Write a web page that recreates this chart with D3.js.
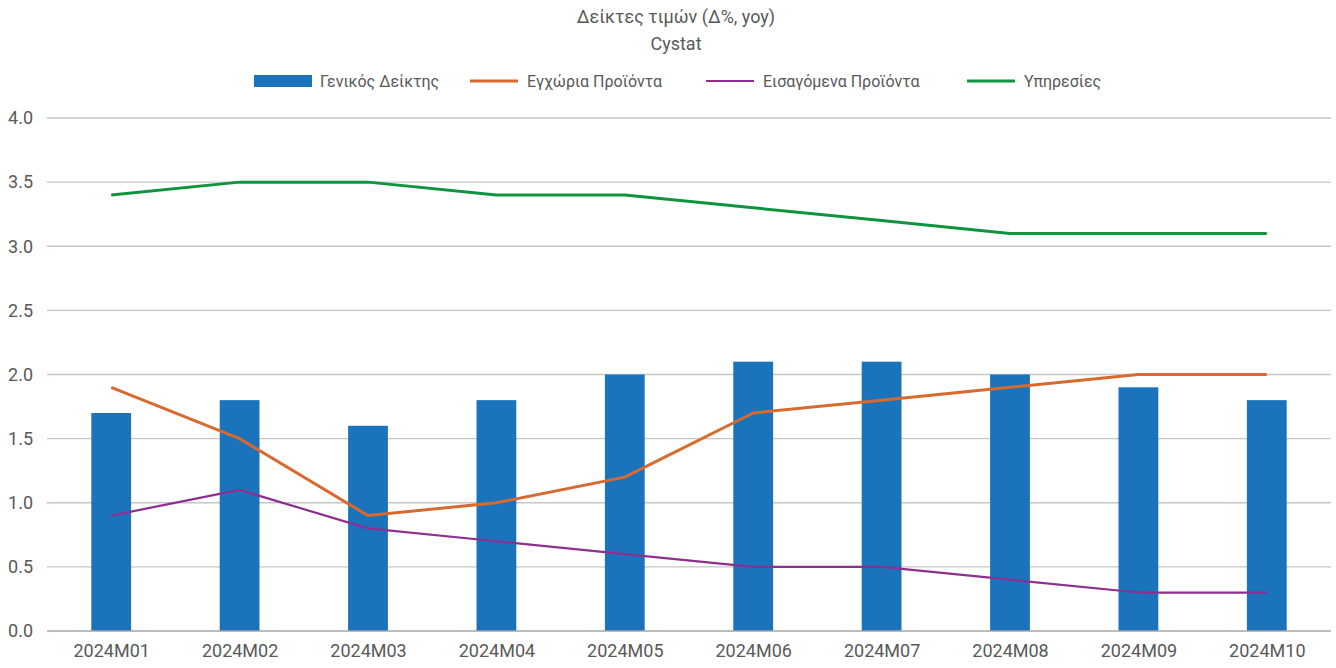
<!DOCTYPE html>
<html lang="el">
<head>
<meta charset="UTF-8"/>
<title>Δείκτες τιμών</title>
<script src="https://d3js.org/d3.v7.min.js"></script>
<style>
  body { margin: 0; background: #fff; }
  svg text { font-family: "Roboto", "Liberation Sans", sans-serif; fill: #595959; }
</style>
</head>
<body>
<script>

var w = 1336;
var h = 668;

// data
var months = ["2024M01", "2024M02", "2024M03", "2024M04", "2024M05",
              "2024M06", "2024M07", "2024M08", "2024M09", "2024M10"];
var general  = [1.7, 1.8, 1.6, 1.8, 2.0, 2.1, 2.1, 2.0, 1.9, 1.8];
var domestic = [1.9, 1.5, 0.9, 1.0, 1.2, 1.7, 1.8, 1.9, 2.0, 2.0];
var imported = [0.9, 1.1, 0.8, 0.7, 0.6, 0.5, 0.5, 0.4, 0.3, 0.3];
var services = [3.4, 3.5, 3.5, 3.4, 3.4, 3.3, 3.2, 3.1, 3.1, 3.1];
var yTicks = [0, 0.5, 1.0, 1.5, 2.0, 2.5, 3.0, 3.5, 4.0];

var plotLeft = 47, plotRight = 1331, plotTop = 118, plotBottom = 631;

var xScale = d3.scaleBand()
    .domain(months)
    .range([plotLeft, plotRight])
    .paddingInner(0.69)
    .paddingOuter(0.345);

var xPoint = d3.scalePoint()
    .domain(months)
    .range([plotLeft, plotRight])
    .padding(0.5);

var yScale = d3.scaleLinear()
    .domain([0, 4])
    .range([plotBottom, plotTop]);

var svg = d3.select("body")
    .append("svg")
    .attr("width", w)
    .attr("height", h);

// title
svg.append("text")
    .attr("x", 676).attr("y", 23)
    .attr("text-anchor", "middle")
    .style("font-size", "18px")
    .text("Δείκτες τιμών (Δ%, yoy)");
svg.append("text")
    .attr("x", 676).attr("y", 50)
    .attr("text-anchor", "middle")
    .style("font-size", "18px")
    .text("Cystat");

// gridlines
svg.append("g")
    .selectAll("line")
    .data(yTicks.filter(function(d){ return d > 0; }))
    .enter()
    .append("line")
    .attr("x1", plotLeft).attr("x2", plotRight)
    .attr("y1", function(d){ return yScale(d); })
    .attr("y2", function(d){ return yScale(d); })
    .attr("stroke", "#c6c6c6")
    .attr("stroke-width", 1.3);

// y axis labels
var yAxis = d3.axisLeft(yScale)
    .tickValues(yTicks)
    .tickFormat(d3.format(".1f"))
    .tickSize(0)
    .tickPadding(14);
var gy = svg.append("g")
    .attr("transform", "translate(" + plotLeft + ",0)")
    .call(yAxis);
gy.select(".domain").remove();
gy.selectAll("text")
    .style("font-size", "18px")
    .attr("fill", "#595959");

// bars
svg.selectAll("rect.bar")
    .data(general)
    .enter()
    .append("rect")
    .attr("class", "bar")
    .attr("x", function(d, i){ return xScale(months[i]); })
    .attr("y", function(d){ return yScale(d); })
    .attr("width", xScale.bandwidth())
    .attr("height", function(d){ return yScale(0) - yScale(d); })
    .attr("fill", "#1b74bb");

// x axis
var xAxis = d3.axisBottom(xPoint)
    .tickSize(0)
    .tickPadding(13);
var gx = svg.append("g")
    .attr("transform", "translate(0," + plotBottom + ")")
    .call(xAxis);
gx.select(".domain")
    .attr("stroke", "#a6a6a6")
    .attr("stroke-width", 1.3)
    .attr("d", "M" + plotLeft + ",0H" + plotRight);
gx.selectAll("text")
    .style("font-size", "18px")
    .attr("fill", "#595959");

// lines
var line = d3.line()
    .x(function(d, i){ return xPoint(months[i]); })
    .y(function(d){ return yScale(d); });

var series = [
    { name: "Εγχώρια Προϊόντα", values: domestic, color: "#d8692f", width: 3 },
    { name: "Εισαγόμενα Προϊόντα", values: imported, color: "#8e2f8f", width: 2.2 },
    { name: "Υπηρεσίες", values: services, color: "#10933f", width: 3 }
];

series.forEach(function(s){
    svg.append("path")
        .datum(s.values)
        .attr("d", line)
        .attr("fill", "none")
        .attr("stroke", s.color)
        .attr("stroke-width", s.width)
        .attr("stroke-linejoin", "round");
});

// legend
var legY = 81;
svg.append("rect")
    .attr("x", 254).attr("y", legY - 6)
    .attr("width", 58).attr("height", 12)
    .attr("fill", "#1b74bb");
svg.append("text")
    .attr("x", 320).attr("y", legY + 6)
    .style("font-size", "16px")
    .text("Γενικός Δείκτης");

var legX = [470, 706, 967];
series.forEach(function(s, i){
    svg.append("line")
        .attr("x1", legX[i]).attr("x2", legX[i] + 48)
        .attr("y1", legY).attr("y2", legY)
        .attr("stroke", s.color)
        .attr("stroke-width", s.width);
    svg.append("text")
        .attr("x", legX[i] + 57).attr("y", legY + 6)
        .style("font-size", "16px")
        .text(s.name);
});

</script>
</body>
</html>
